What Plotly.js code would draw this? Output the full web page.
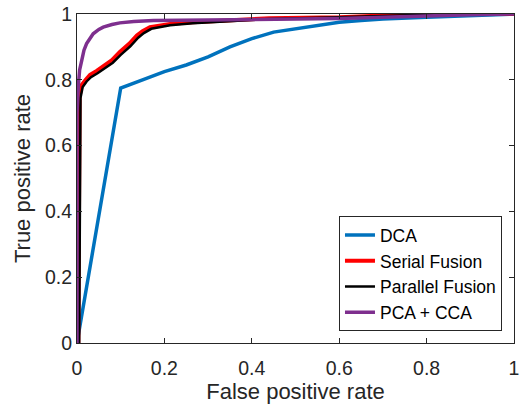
<!DOCTYPE html>
<html>
<head>
<meta charset="utf-8">
<script src="https://cdn.plot.ly/plotly-3.0.1.min.js"></script>
<style>html,body{margin:0;padding:0;background:#fff;}#chart{width:521px;height:406px;}</style>
</head>
<body>
<div id="chart"></div>
<script>
// ROC curves
var dcaFpr = [0, 0.1, 0.15, 0.2, 0.25, 0.3, 0.35, 0.4, 0.45, 0.5, 0.55, 0.6, 0.65, 0.7, 0.8, 0.9, 1];
var dcaTpr = [0, 0.775, 0.80, 0.825, 0.845, 0.87, 0.9, 0.925, 0.945, 0.955, 0.965, 0.975, 0.98, 0.985, 0.99, 0.995, 1];

var serialFpr = [0, 0.003, 0.006, 0.011, 0.02, 0.03, 0.045, 0.06, 0.08, 0.098, 0.12, 0.137, 0.15, 0.167, 0.19, 0.213, 0.265, 0.343, 0.44, 0.6, 0.75, 0.85, 1];
var serialTpr = [0, 0, 0.75, 0.785, 0.80, 0.815, 0.827, 0.84, 0.86, 0.885, 0.91, 0.935, 0.948, 0.96, 0.965, 0.97, 0.975, 0.98, 0.987, 0.99, 0.998, 1, 1];

var parallelFpr = [0, 0.005, 0.008, 0.013, 0.022, 0.032, 0.047, 0.062, 0.082, 0.1, 0.122, 0.14, 0.153, 0.17, 0.19, 0.213, 0.265, 0.343, 0.44, 0.6, 0.75, 0.85, 1];
var parallelTpr = [0, 0, 0.745, 0.778, 0.795, 0.808, 0.82, 0.833, 0.852, 0.876, 0.902, 0.928, 0.942, 0.955, 0.96, 0.966, 0.972, 0.978, 0.985, 0.99, 0.997, 1, 1];

var pcaFpr = [0, 0, 0.003, 0.006, 0.011, 0.016, 0.022, 0.03, 0.037, 0.05, 0.06, 0.08, 0.098, 0.13, 0.175, 0.3, 0.5, 0.6, 0.7, 0.8, 0.9, 1];
var pcaTpr = [0, 0.7, 0.78, 0.83, 0.86, 0.89, 0.91, 0.928, 0.94, 0.953, 0.96, 0.968, 0.973, 0.977, 0.98, 0.982, 0.983, 0.986, 0.99, 0.995, 0.998, 1];

var names = ['DCA', 'Serial Fusion', 'Parallel Fusion', 'PCA + CCA'];
var tickVals = [0, 0.2, 0.4, 0.6, 0.8, 1];
var tickText = ['0', '0.2', '0.4', '0.6', '0.8', '1'];

var traces = [
  {x: dcaFpr, y: dcaTpr, name: names[0], mode: 'lines', line: {color: '#0072BD', width: 3.5}},
  {x: serialFpr, y: serialTpr, name: names[1], mode: 'lines', line: {color: '#FF0000', width: 4}},
  {x: parallelFpr, y: parallelTpr, name: names[2], mode: 'lines', line: {color: '#000000', width: 2.5}},
  {x: pcaFpr, y: pcaTpr, name: names[3], mode: 'lines', line: {color: '#7E2F8E', width: 3.5}}
];

var axisCommon = {
  range: [0, 1],
  tickvals: tickVals,
  ticktext: tickText,
  ticks: 'inside',
  ticklen: 5,
  tickwidth: 1,
  tickcolor: '#262626',
  showline: true,
  linecolor: '#262626',
  linewidth: 1,
  mirror: 'ticks',
  showgrid: false,
  zeroline: false,
  tickfont: {family: 'Liberation Sans, Arial, sans-serif', size: 19.5, color: '#262626'}
};

var layout = {
  width: 521,
  height: 406,
  margin: {l: 77, r: 7, t: 14, b: 63},
  paper_bgcolor: '#ffffff',
  plot_bgcolor: '#ffffff',
  font: {family: 'Liberation Sans, Arial, sans-serif', color: '#262626'},
  xaxis: Object.assign({}, axisCommon, {
    ticklabelstandoff: 8,
    title: {text: 'False positive rate', font: {size: 22, color: '#262626'}, standoff: 3}
  }),
  yaxis: Object.assign({}, axisCommon, {
    title: {text: 'True positive rate', font: {size: 22, color: '#262626'}, standoff: 8}
  }),
  showlegend: true,
  legend: {
    x: 0.9725, xanchor: 'right',
    y: 0.036, yanchor: 'bottom',
    bgcolor: '#ffffff',
    bordercolor: '#262626',
    borderwidth: 1,
    font: {family: 'Liberation Sans, Arial, sans-serif', size: 17.5, color: '#000000'},
    traceorder: 'normal'
  }
};

Plotly.newPlot('chart', traces, layout, {displayModeBar: false, staticPlot: true});
</script>
</body>
</html>
